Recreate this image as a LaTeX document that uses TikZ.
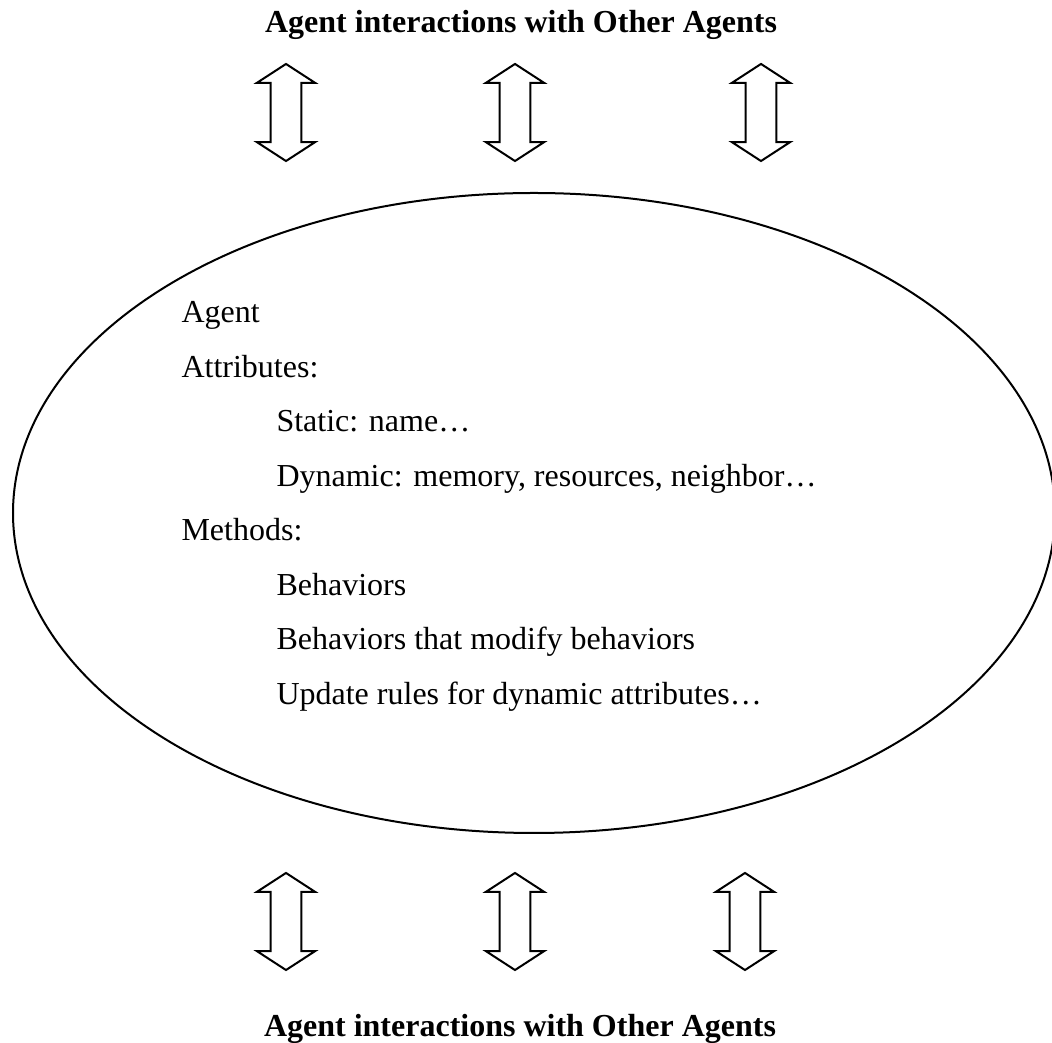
\documentclass[tikz,border=0pt]{standalone}
\usepackage{fontspec}
\setmainfont{Liberation Serif}
\usetikzlibrary{shapes.geometric,shapes.arrows}

\begin{document}
\begin{tikzpicture}[
  x=0.375pt, y=-0.375pt,
  every node/.style={font=\fontsize{12}{14}\selectfont},
  line/.style = {anchor=base west, inner sep=0},
  heading/.style = {anchor=base, inner sep=0, font=\fontsize{12}{14}\selectfont\bfseries},
  twoway/.style = {double arrow, draw, line width=0.75pt, rotate=90,
    inner xsep=0, inner ysep=5.4pt,
    minimum height=36.4pt, minimum width=21.6pt,
    double arrow head extend=5.2pt, double arrow tip angle=114}
  ]
	\useasboundingbox (0,0) rectangle (1052,1043);

	\node[heading] (top) at (521,33) {Agent interactions with Other Agents};
	\node[heading] (bottom) at (520,1037) {Agent interactions with Other Agents};

	\node[twoway] (t1) at (286,112.5) {};
	\node[twoway] (t2) at (515,112.5) {};
	\node[twoway] (t3) at (761,112.5) {};

	\node[ellipse, draw, line width=0.75pt, inner sep=0,
	  minimum width=390.75pt, minimum height=240pt] (agent) at (534,513) {};

	\node[line] (name) at (181,323) {Agent};
	\node[line] (attr) at (181,377.5) {Attributes:};
	\node[line] (static) at (276,432) {Static: name…};
	\node[line] (dyn) at (276,486.5) {Dynamic: memory, resources, neighbor…};
	\node[line] (meth) at (181,541) {Methods:};
	\node[line] (beh) at (276,595.5) {Behaviors};
	\node[line] (mod) at (276,650) {Behaviors that modify behaviors};
	\node[line] (upd) at (276,704.5) {Update rules for dynamic attributes…};

	\node[twoway] (b1) at (286,921.5) {};
	\node[twoway] (b2) at (515,921.5) {};
	\node[twoway] (b3) at (745,921.5) {};

\end{tikzpicture}
\end{document}
